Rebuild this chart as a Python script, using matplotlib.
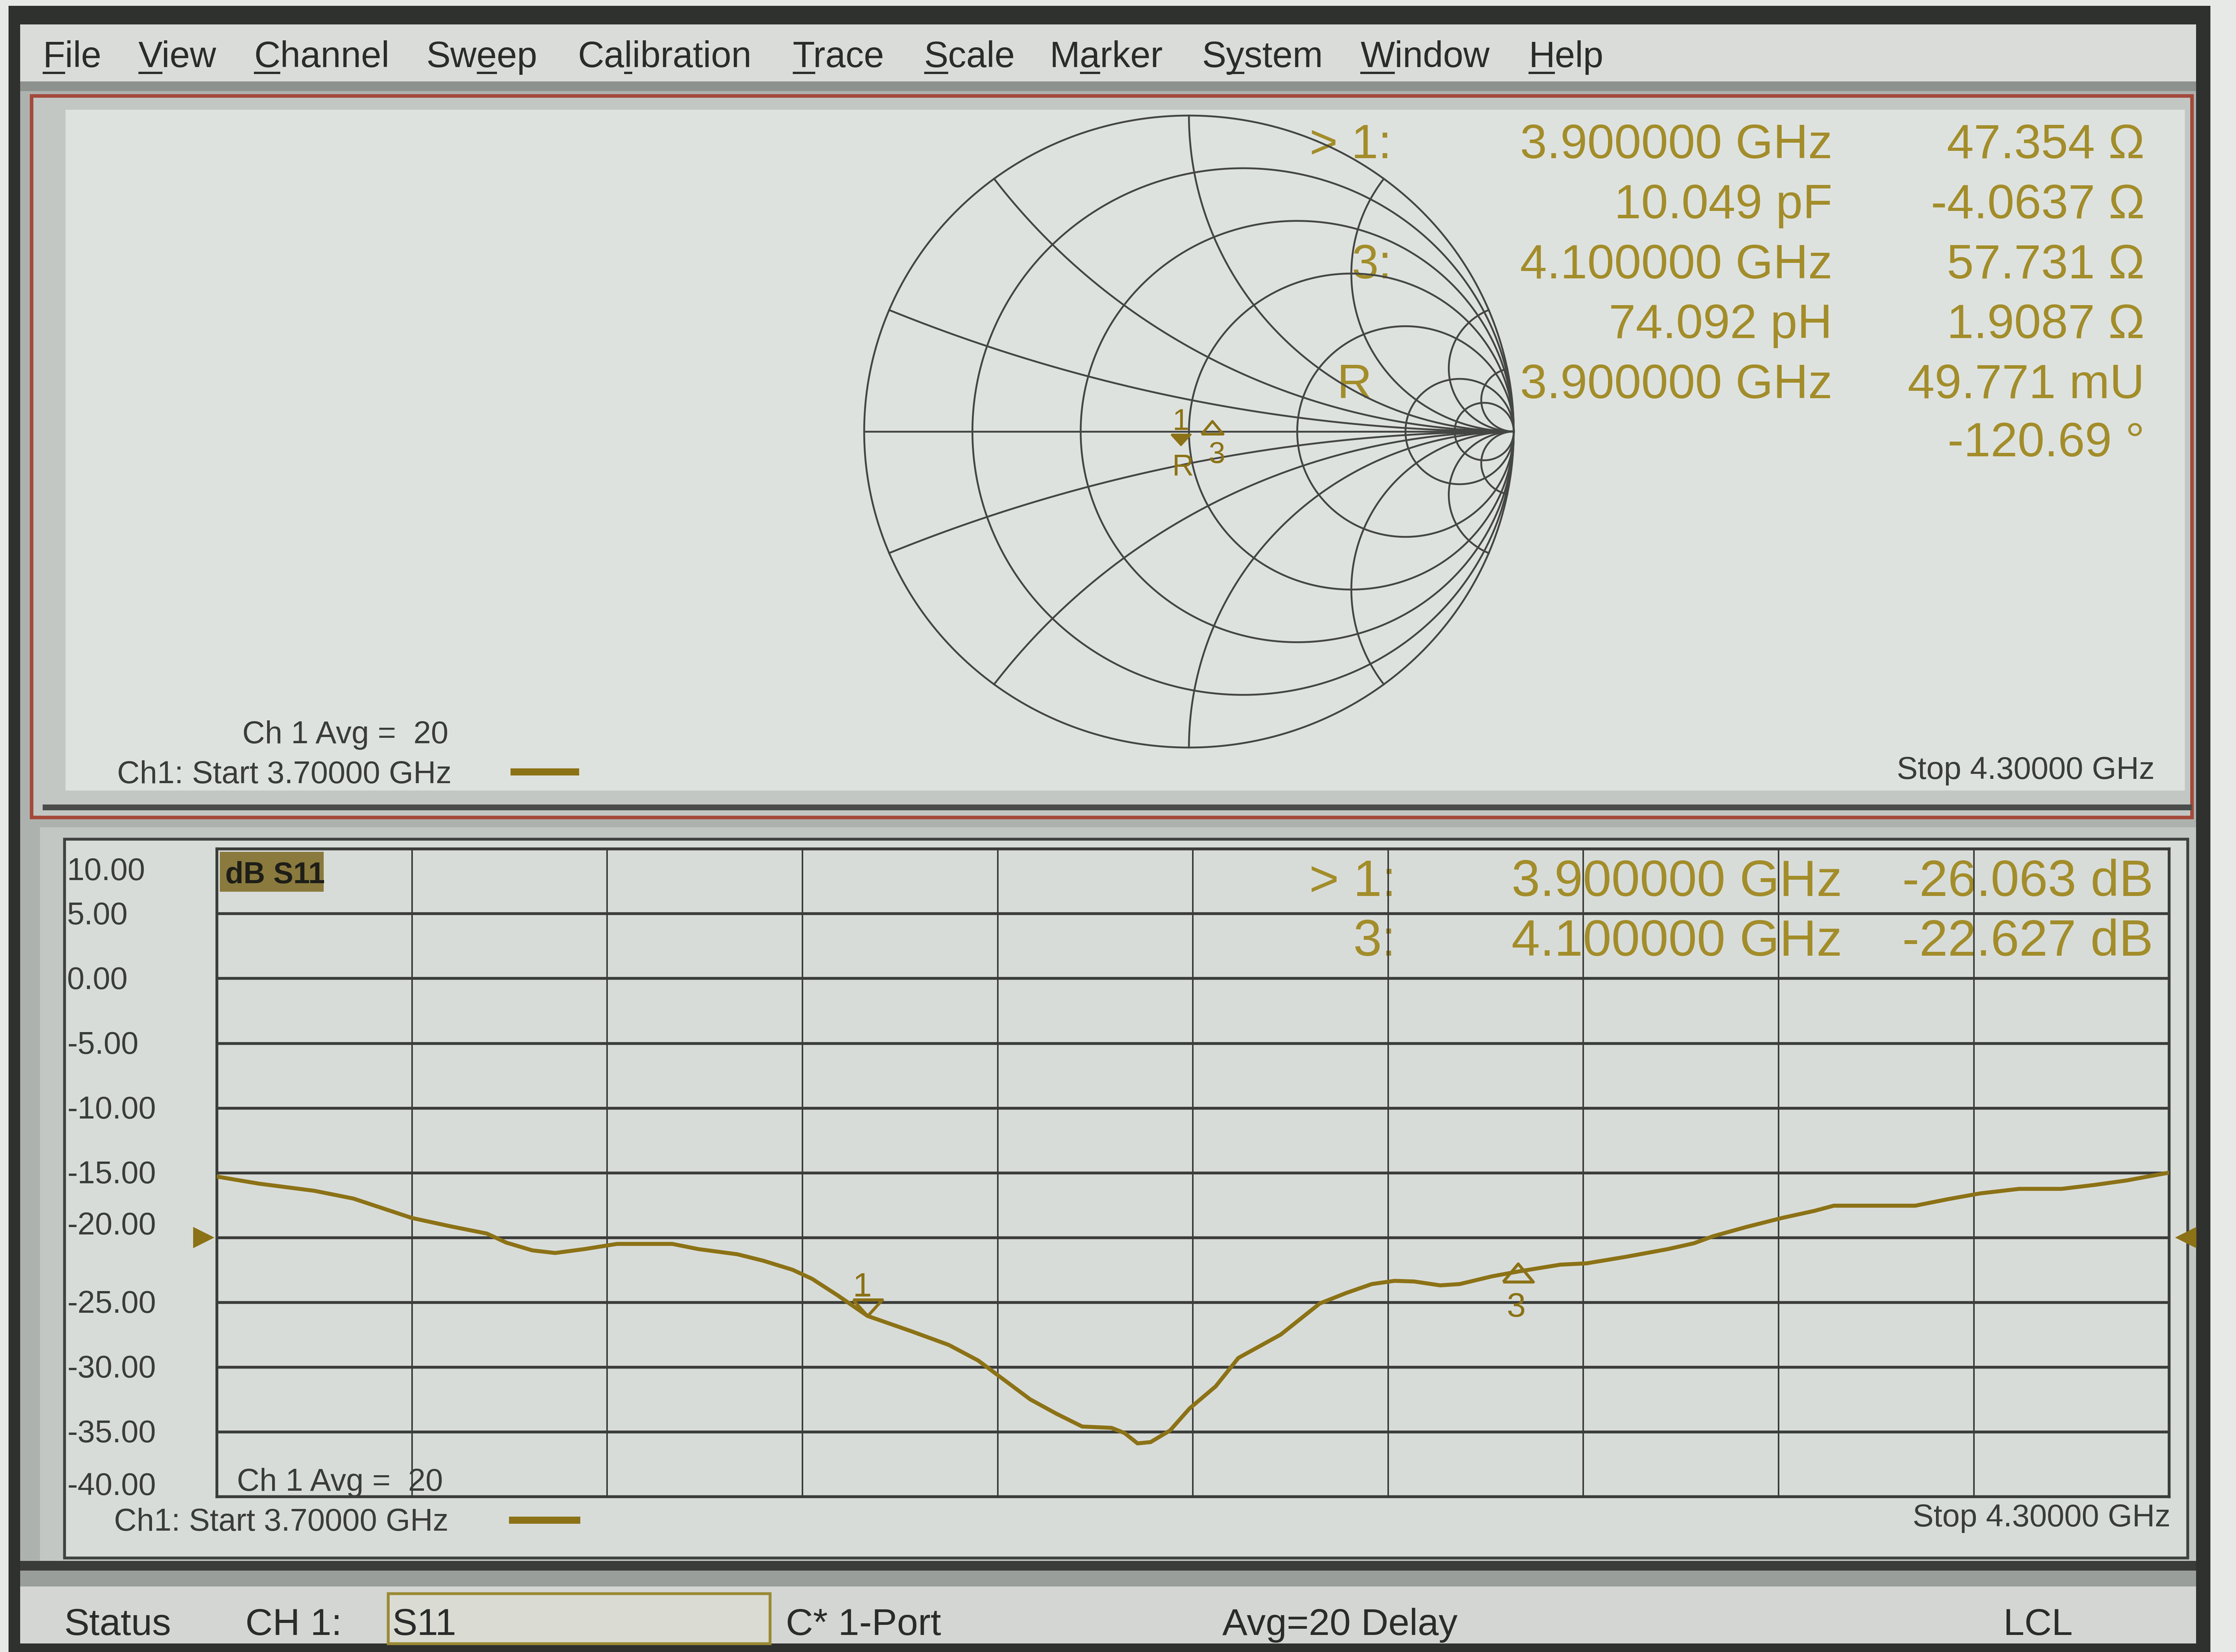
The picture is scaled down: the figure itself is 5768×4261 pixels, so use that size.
import numpy as np
import matplotlib
matplotlib.use("Agg")
import matplotlib.pyplot as plt
from matplotlib.patches import Rectangle
from matplotlib.transforms import blended_transform_factory

# layout is in "screen units" of the 1568 x 1158 reference view
W, H = 1568, 1158
DPI = 400
PT = 5768 / W / DPI * 72  # points per screen unit

FONT_REG = ["Liberation Sans", "DejaVu Sans"]
FONT_NARROW = ["Liberation Sans Narrow", "Liberation Sans", "DejaVu Sans"]

# ---- data ----
MENU = ["File", "View", "Channel", "Sweep", "Calibration", "Trace",
        "Scale", "Marker", "System", "Window", "Help"]
MENU_KEY = [0, 0, 0, 2, 2, 0, 0, 1, 1, 0, 0]

START_GHZ, STOP_GHZ = 3.7, 4.3
DB_TOP, DB_BOTTOM = 10.0, -40.0
DB_TICKS = [10, 5, 0, -5, -10, -15, -20, -25, -30, -35, -40]
REF_LEVEL_DB = -20

FREQ_GHZ = [3.700, 3.713, 3.730, 3.742, 3.754, 3.760, 3.772, 3.783, 3.789, 3.797,
            3.804, 3.813, 3.823, 3.840, 3.848, 3.860, 3.868, 3.877, 3.883, 3.891,
            3.900, 3.913, 3.925, 3.934, 3.942, 3.950, 3.958, 3.966, 3.975, 3.979,
            3.983, 3.987, 3.993, 3.999, 4.007, 4.014, 4.027, 4.039, 4.047, 4.055,
            4.062, 4.068, 4.076, 4.082, 4.092, 4.100, 4.113, 4.121, 4.133, 4.146,
            4.154, 4.160, 4.170, 4.181, 4.191, 4.197, 4.222, 4.232, 4.242, 4.254,
            4.267, 4.277, 4.287, 4.300]
S11_DB = [-15.3, -15.85, -16.4, -17.0, -18.0, -18.5, -19.15, -19.7, -20.4, -21.0,
          -21.2, -20.9, -20.5, -20.5, -20.9, -21.3, -21.8, -22.5, -23.2, -24.5,
          -26.06, -27.2, -28.3, -29.5, -31.0, -32.5, -33.6, -34.6, -34.7, -35.1,
          -35.9, -35.8, -34.9, -33.2, -31.5, -29.3, -27.5, -25.1, -24.3, -23.6,
          -23.35, -23.4, -23.7, -23.6, -23.0, -22.63, -22.1, -22.0, -21.5, -20.9,
          -20.45, -19.9, -19.2, -18.5, -17.95, -17.55, -17.55, -17.05, -16.6, -16.25,
          -16.25, -15.95, -15.6, -15.0]

MARKER_NAMES = ["1", "3"]
MARKER_GHZ = [3.9, 4.1]
MARKER_DB = [-26.063, -22.627]
MARKER_Z = [complex(47.354, -4.0637), complex(57.731, 1.9087)]
Z0 = 50.0

SMITH_R = [0.2, 0.5, 1, 2, 5, 10]
SMITH_X = [0.2, 0.5, 1, 2, 5, 10]

SMITH_LABELS = ["> 1:", "", "3:", "", "R", ""]
SMITH_STIM = ["3.900000 GHz", "10.049 pF", "4.100000 GHz", "74.092 pH", "3.900000 GHz", ""]
SMITH_VALUES = ["47.354 Ω", "-4.0637 Ω", "57.731 Ω", "1.9087 Ω", "49.771 mU", "-120.69 °"]

LOG_LABELS = ["> 1:", "3:"]
LOG_STIM = ["3.900000 GHz", "4.100000 GHz"]
LOG_VALUES = ["-26.063 dB", "-22.627 dB"]

# ---- colours ----
BEZEL = "#2f312f"
MENU_BG = "#d9dcd9"
FRAME = "#aeb2af"
TOP_BG = "#dee2df"
LOW_BG = "#d8dcd9"
RED = "#a4493b"
DARK = "#2a2c2a"
LABEL = "#3a3c3a"
GOLD = "#a38d2a"
TRACE = "#8c7216"
GRID = "#3b3d3b"
SMITH_GRID = "#444644"

fig = plt.figure(figsize=(5768 / DPI, 4261 / DPI), dpi=DPI)
fig.patch.set_facecolor("#e6e9e6")

bg = fig.add_axes([0, 0, 1, 1])
bg.set_xlim(0, W)
bg.set_ylim(H, 0)
bg.axis("off")


def frac(x0, y0, x1, y1):
    return [x0 / W, 1 - y1 / H, (x1 - x0) / W, (y1 - y0) / H]


def rect(x0, y0, x1, y1, fc, ec="none", lw=0, z=0):
    bg.add_patch(Rectangle((x0, y0), x1 - x0, y1 - y0, facecolor=fc,
                           edgecolor=ec, linewidth=lw, zorder=z))


def txt(x, y, s, em, color, ha="left", font=FONT_REG, z=5, **kw):
    return bg.text(x, y, s, fontsize=em * PT, color=color, ha=ha, va="baseline",
                   family=font, zorder=z, **kw)


# ---- screen frame ----
rect(6, 4, 1550, 1158, BEZEL)
rect(14, 17, 1540, 57, MENU_BG, z=1)
rect(14, 57, 1540, 1112, FRAME, z=1)
rect(14, 57, 1540, 64, "#8e928f", z=1)
# top (active) panel
rect(22, 67, 1537, 573, "#c3c7c4", ec=RED, lw=2.5 * PT, z=2)
rect(46, 77, 1532, 554, TOP_BG, z=3)
rect(30, 564, 1537, 568, "#4a4c4a", z=3)
# lower panel
rect(28, 580, 1540, 1098, "#c3c7c4", z=2)
rect(45, 588, 1534, 1092, LOW_BG, ec="#3f4240", lw=2 * PT, z=3)
rect(14, 1094, 1540, 1101, "#3a3c3a", z=3)
rect(14, 1101, 1540, 1112, "#9a9e9b", z=3)
# status bar
rect(14, 1112, 1540, 1152, "#d3d6d3", z=3)
rect(272, 1117, 540, 1152, "#dadbd2", ec="#9a8a35", lw=2 * PT, z=4)

# ---- menu bar ----
MENU_EM = 25.5
menu_x = [30, 97, 178, 299, 405, 556, 648, 736, 843, 954, 1072]
renderer = fig.canvas.get_renderer()
inv = bg.transData.inverted()
for x, name, key in zip(menu_x, MENU, MENU_KEY):
    t = txt(x, 47, name, MENU_EM, DARK, font=FONT_NARROW)
    probe = txt(0, 0, name[:key + 1], MENU_EM, DARK, font=FONT_NARROW)
    w1 = probe.get_window_extent(renderer).width
    w0 = 0.0
    if key:
        probe.set_text(name[:key])
        w0 = probe.get_window_extent(renderer).width
    probe.remove()
    x_disp = t.get_window_extent(renderer).x0
    ux0 = inv.transform((x_disp + w0, 0))[0]
    ux1 = inv.transform((x_disp + w1, 0))[0]
    bg.plot([ux0, ux1], [51, 51], color=DARK, lw=1.6 * PT, zorder=5,
            solid_capstyle="butt")

# ---- Smith chart (top panel) ----
sm = fig.add_axes(frac(606, 81, 1061.5, 524))
sm.set_xlim(-1, 1)
sm.set_ylim(-1, 1)
sm.axis("off")
sm.patch.set_alpha(0)
th = np.linspace(0, 2 * np.pi, 721)
for r in [0] + SMITH_R:
    c, rad = r / (1 + r), 1 / (1 + r)
    sm.plot(c + rad * np.cos(th), rad * np.sin(th), color=SMITH_GRID,
            lw=1.3 * PT, clip_on=False)
sm.plot([-1, 1], [0, 0], color=SMITH_GRID, lw=1.3 * PT, clip_on=False)
rr = np.tan(np.linspace(0, np.pi / 2 - 1e-3, 800))
for xv in SMITH_X:
    for sign in (1, -1):
        g = (rr + 1j * sign * xv - 1) / (rr + 1j * sign * xv + 1)
        sm.plot(g.real, g.imag, color=SMITH_GRID, lw=1.3 * PT, clip_on=False)

# closed triangle outlines, tip at the marker position
tri_down = [(-0.909, 1), (0.909, 1), (0, 0), (-0.909, 1)]
tri_up = [(-1, -0.7), (1, -0.7), (0, 0.5), (-1, -0.7)]

gam = [(z / Z0 - 1) / (z / Z0 + 1) for z in MARKER_Z]
sm.plot(gam[0].real, gam[0].imag, marker=tri_down, ms=10, color=TRACE,
        mfc=TRACE, mew=0.8, zorder=6)
sm.annotate(MARKER_NAMES[0], (gam[0].real, gam[0].imag), xytext=(0, 7),
            textcoords="offset points", ha="center", va="baseline",
            fontsize=21 * PT, color=TRACE, family=FONT_REG)
sm.annotate("R", (gam[0].real, gam[0].imag), xytext=(1, -14),
            textcoords="offset points", ha="center", va="baseline",
            fontsize=21 * PT, color=TRACE, family=FONT_REG)
sm.plot(gam[1].real, gam[1].imag, marker=tri_up, ms=10, color=TRACE,
        mfc="none", mew=1.2, zorder=6)
sm.annotate(MARKER_NAMES[1], (gam[1].real, gam[1].imag), xytext=(2, -17),
            textcoords="offset points", ha="center", va="baseline",
            fontsize=21 * PT, color=TRACE, family=FONT_REG)

# marker readout, top panel
row_y = [111, 153, 195, 237, 279, 320]
for i, y in enumerate(row_y):
    if SMITH_LABELS[i]:
        lx = 962 if SMITH_LABELS[i] == "R" else 976
        txt(lx, y, SMITH_LABELS[i], 34, GOLD, ha="right")
    if SMITH_STIM[i]:
        txt(1285, y, SMITH_STIM[i], 34, GOLD, ha="right")
    txt(1504, y, SMITH_VALUES[i], 34, GOLD, ha="right")

txt(170, 521, "Ch 1 Avg =  20", 22, LABEL)
txt(82, 549, f"Ch1: Start {START_GHZ:.5f} GHz", 22, LABEL)
bg.plot([358, 406], [541, 541], color=TRACE, lw=5 * PT, zorder=5, solid_capstyle="butt")
txt(1511, 546, f"Stop {STOP_GHZ:.5f} GHz", 22, LABEL, ha="right")

# ---- log-mag chart (lower panel) ----
ax = fig.add_axes(frac(152, 595, 1521, 1049))
ax.patch.set_alpha(0)
ax.set_xlim(START_GHZ, STOP_GHZ)
ax.set_ylim(DB_BOTTOM, DB_TOP)
ax.set_xticks(np.linspace(START_GHZ, STOP_GHZ, 11))
ax.set_yticks(DB_TICKS)
ax.tick_params(length=0, labelbottom=False, labelleft=False)
ax.xaxis.grid(True, color=GRID, lw=1.1 * PT)
ax.yaxis.grid(True, color=GRID, lw=2.0 * PT)
for sp in ax.spines.values():
    sp.set_color(GRID)
    sp.set_linewidth(2.0 * PT)

ax.plot(FREQ_GHZ, S11_DB, color=TRACE, lw=2.8 * PT, zorder=4)

tr = blended_transform_factory(ax.transAxes, ax.transData)
ax.plot([-0.007], [REF_LEVEL_DB], marker=">", ms=9 * PT * 1.4, color=TRACE,
        transform=tr, clip_on=False)
ax.plot([1.009], [REF_LEVEL_DB], marker="<", ms=9 * PT * 1.4, color=TRACE,
        transform=tr, clip_on=False)

ax.plot(MARKER_GHZ[0], MARKER_DB[0], marker=tri_down, ms=15, mfc="none",
        color=TRACE, mew=1.4, zorder=5)
ax.annotate(MARKER_NAMES[0], (MARKER_GHZ[0], MARKER_DB[0]), xytext=(-2.5, 9),
            textcoords="offset points", ha="center", va="baseline",
            fontsize=24 * PT, color=TRACE, family=FONT_NARROW)
ax.plot(MARKER_GHZ[1], MARKER_DB[1], marker=tri_up, ms=14, mfc="none",
        color=TRACE, mew=1.4, zorder=5)
ax.annotate(MARKER_NAMES[1], (MARKER_GHZ[1], MARKER_DB[1]), xytext=(-1, -21),
            textcoords="offset points", ha="center", va="baseline",
            fontsize=24 * PT, color=TRACE, family=FONT_NARROW)

# y labels (left column)
label_shift = {10: 22, -20: -2, -40: -1}
for v in DB_TICKS:
    ly = inv.transform(ax.transData.transform((START_GHZ, v)))[1]
    txt(47, ly + label_shift.get(v, 7.5), f"{v:.2f}", 22, LABEL)

# dB S11 tag
rect(154, 597, 227, 625, "#8a7a3e", z=4)
txt(158, 619, "dB S11", 21, "#1e1e18", weight="bold")

# marker readout, lower panel
for i, y in enumerate([628, 670]):
    txt(979, y, LOG_LABELS[i], 36, GOLD, ha="right")
    txt(1292, y, LOG_STIM[i], 36, GOLD, ha="right")
    txt(1510, y, LOG_VALUES[i], 36, GOLD, ha="right")

txt(166, 1045, "Ch 1 Avg =  20", 22, LABEL)
txt(80, 1073, f"Ch1: Start {START_GHZ:.5f} GHz", 22, LABEL)
bg.plot([357, 407], [1065.5, 1065.5], color=TRACE, lw=5 * PT, zorder=5, solid_capstyle="butt")
txt(1522, 1070, f"Stop {STOP_GHZ:.5f} GHz", 22, LABEL, ha="right")

# ---- status bar ----
STATUS_EM = 26.5
txt(45, 1146, "Status", STATUS_EM, DARK, font=FONT_NARROW)
txt(172, 1146, "CH 1:", STATUS_EM, DARK, font=FONT_NARROW)
txt(275, 1146, "S11", STATUS_EM, DARK, font=FONT_NARROW)
txt(551, 1146, "C* 1-Port", STATUS_EM, DARK, font=FONT_NARROW)
txt(857, 1146, "Avg=20 Delay", STATUS_EM, DARK, font=FONT_NARROW)
txt(1405, 1146, "LCL", STATUS_EM, DARK, font=FONT_NARROW)

fig.savefig("out.png", dpi=DPI)
plt.close(fig)
